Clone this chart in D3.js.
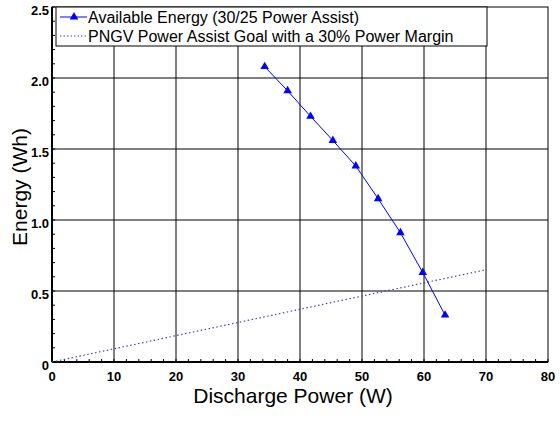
<!DOCTYPE html>
<html>
<head>
<meta charset="utf-8">
<script src="https://cdn.jsdelivr.net/npm/d3@7"></script>
<style>
  body { margin: 0; background: #fff; }
  text { font-family: "Liberation Sans", Arial, sans-serif; }
</style>
</head>
<body>
<div id="chart"></div>
<script>
// data
var powerW = [34.3, 38.0, 41.7, 45.3, 49.0, 52.6, 56.2, 59.8, 63.4];
var energyWh = [2.08, 1.91, 1.73, 1.56, 1.38, 1.15, 0.91, 0.63, 0.33];
var goalPower = [0, 70];
var goalEnergy = [0, 0.65];
var xTicks = [0, 10, 20, 30, 40, 50, 60, 70, 80];
var yTicks = [0, 0.5, 1.0, 1.5, 2.0, 2.5];
var seriesNames = ["Available Energy (30/25 Power Assist)",
                   "PNGV Power Assist Goal with a 30% Power Margin"];

var width = 560, height = 421;
// note: "top" is taken by window.top, so use plot* names
var plotL = 52, plotR = 548, plotT = 7, plotB = 362;

var svg = d3.select("#chart").append("svg")
    .attr("width", width)
    .attr("height", height);

var x = d3.scaleLinear().domain([0, 80]).range([plotL, plotR]);
var y = d3.scaleLinear().domain([0, 2.5]).range([plotB, plotT]);

// grid lines
svg.append("g").selectAll("line")
    .data(xTicks.slice(1, -1))
    .enter().append("line")
    .attr("x1", function (d) { return x(d); })
    .attr("x2", function (d) { return x(d); })
    .attr("y1", plotT).attr("y2", plotB)
    .attr("stroke", "#000").attr("stroke-width", 1);
svg.append("g").selectAll("line")
    .data(yTicks.slice(1, -1))
    .enter().append("line")
    .attr("y1", function (d) { return y(d); })
    .attr("y2", function (d) { return y(d); })
    .attr("x1", plotL).attr("x2", plotR)
    .attr("stroke", "#000").attr("stroke-width", 1);

// frame
svg.append("rect")
    .attr("x", plotL).attr("y", plotT)
    .attr("width", plotR - plotL).attr("height", plotB - plotT)
    .attr("fill", "none").attr("stroke", "#000").attr("stroke-width", 1);

// minor ticks, pointing inside
svg.append("g").selectAll("line")
    .data(d3.range(0, 81, 2))
    .enter().append("line")
    .attr("x1", function (d) { return x(d); })
    .attr("x2", function (d) { return x(d); })
    .attr("y1", plotB).attr("y2", plotB - 3)
    .attr("stroke", "#000");
svg.append("g").selectAll("line")
    .data(d3.range(0, 26).map(function (i) { return i / 10; }))
    .enter().append("line")
    .attr("y1", function (d) { return y(d); })
    .attr("y2", function (d) { return y(d); })
    .attr("x1", plotL).attr("x2", plotL + 3)
    .attr("stroke", "#000");

// axes lines (heavier)
svg.append("line").attr("x1", plotL).attr("x2", plotR)
    .attr("y1", plotB).attr("y2", plotB)
    .attr("stroke", "#000").attr("stroke-width", 2);
svg.append("line").attr("x1", plotL).attr("x2", plotL)
    .attr("y1", plotT).attr("y2", plotB)
    .attr("stroke", "#000").attr("stroke-width", 2);

// tick labels
svg.append("g").selectAll("text")
    .data(xTicks)
    .enter().append("text")
    .attr("x", function (d) { return x(d); })
    .attr("y", plotB + 19)
    .attr("text-anchor", "middle")
    .attr("font-size", 13).attr("font-weight", "bold")
    .text(function (d) { return d; });
svg.append("g").selectAll("text")
    .data(yTicks)
    .enter().append("text")
    .attr("x", plotL - 3)
    .attr("y", function (d) { return y(d) + 8; })
    .attr("text-anchor", "end")
    .attr("font-size", 13).attr("font-weight", "bold")
    .text(function (d) { return d === 0 ? "0" : d.toFixed(1); });

// axis titles
svg.append("text")
    .attr("x", 293).attr("y", 403)
    .attr("text-anchor", "middle")
    .attr("font-size", 21)
    .text("Discharge Power (W)");
svg.append("text")
    .attr("transform", "translate(27,187) rotate(-90)")
    .attr("text-anchor", "middle")
    .attr("font-size", 21)
    .text("Energy (Wh)");

// goal line
svg.append("path")
    .datum(d3.zip(goalPower, goalEnergy))
    .attr("d", d3.line().x(function (d) { return x(d[0]); }).y(function (d) { return y(d[1]); }))
    .attr("fill", "none")
    .attr("stroke", "#4646b0")
    .attr("stroke-width", 1.2)
    .attr("stroke-dasharray", "1.5,2.5");

// energy series
var pts = d3.zip(powerW, energyWh);
svg.append("path")
    .datum(pts)
    .attr("d", d3.line().x(function (d) { return x(d[0]); }).y(function (d) { return y(d[1]); }))
    .attr("fill", "none")
    .attr("stroke", "#0000ff")
    .attr("stroke-width", 1);
var tri = d3.symbol().type(d3.symbolTriangle).size(32);
svg.append("g").selectAll("path")
    .data(pts)
    .enter().append("path")
    .attr("d", tri)
    .attr("transform", function (d) { return "translate(" + x(d[0]) + "," + y(d[1]) + ")"; })
    .attr("fill", "#0000ff");

// legend
var lg = svg.append("g");
lg.append("rect")
    .attr("x", 56).attr("y", plotT)
    .attr("width", 431).attr("height", 39)
    .attr("fill", "#fff").attr("stroke", "#000");
var rows = lg.selectAll(".trail")
    .data(seriesNames)
    .enter().append("g")
    .attr("class", "trail")
    .attr("transform", function (d, i) { return "translate(60," + (17 + i * 19) + ")"; });
rows.append("line")
    .attr("x1", 0).attr("x2", 27)
    .attr("y1", 0).attr("y2", 0)
    .attr("stroke", function (d, i) { return i === 0 ? "#0000ff" : "#4646b0"; })
    .attr("stroke-dasharray", function (d, i) { return i === 0 ? null : "1.5,2"; });
rows.filter(function (d, i) { return i === 0; })
    .append("path")
    .attr("d", tri)
    .attr("transform", "translate(14,0)")
    .attr("fill", "#0000ff");
rows.append("text")
    .attr("x", 28).attr("y", 6)
    .attr("font-size", 16)
    .text(function (d) { return d; });
</script>
</body>
</html>
